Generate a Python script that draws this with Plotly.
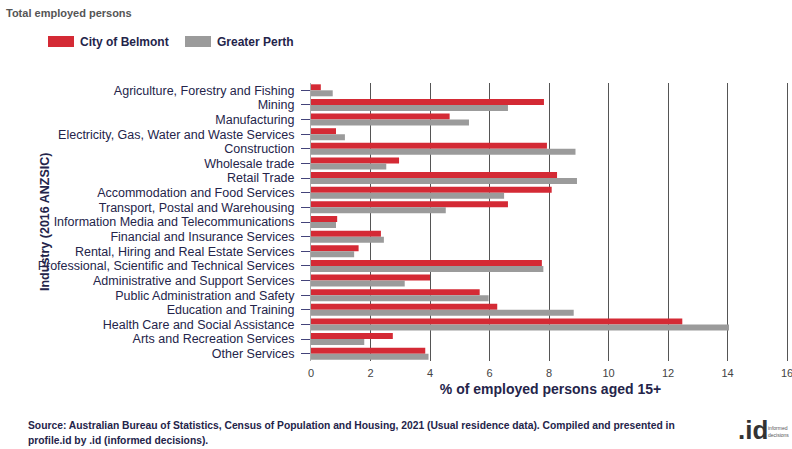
import plotly.graph_objects as go

categories = [
    "Agriculture, Forestry and Fishing",
    "Mining",
    "Manufacturing",
    "Electricity, Gas, Water and Waste Services",
    "Construction",
    "Wholesale trade",
    "Retail Trade",
    "Accommodation and Food Services",
    "Transport, Postal and Warehousing",
    "Information Media and Telecommunications",
    "Financial and Insurance Services",
    "Rental, Hiring and Real Estate Services",
    "Professional, Scientific and Technical Services",
    "Administrative and Support Services",
    "Public Administration and Safety",
    "Education and Training",
    "Health Care and Social Assistance",
    "Arts and Recreation Services",
    "Other Services",
]
belmont = [0.33, 7.83, 4.66, 0.84, 7.93, 2.96, 8.27, 8.09, 6.62, 0.88,
           2.35, 1.60, 7.76, 4.00, 5.67, 6.26, 12.48, 2.75, 3.84]
perth = [0.73, 6.62, 5.31, 1.14, 8.89, 2.53, 8.94, 6.49, 4.53, 0.84,
         2.45, 1.45, 7.81, 3.15, 5.97, 8.83, 14.05, 1.79, 3.95]
x_ticks = [0, 2, 4, 6, 8, 10, 12, 14, 16]
series_names = ["City of Belmont", "Greater Perth"]
series_colors = ["#d42a35", "#9b9b9b"]
source_lines = [
    "Source: Australian Bureau of Statistics, Census of Population and Housing, 2021 (Usual residence data). Compiled and presented in",
    "profile.id by .id (informed decisions).",
]

FONT = "Liberation Sans, Arial, sans-serif"
TXT = "#24244a"
W, H = 792, 449
L, R, T, B = 311, 2, 83, 88
PW, PH = W - L - R, H - T - B


def px(x):
    return (x - L) / PW


def py(y):
    return (H - B - y) / PH


fig = go.Figure()
for name, vals, col in zip(series_names, [belmont, perth], series_colors):
    fig.add_trace(go.Bar(y=categories, x=vals, orientation="h", name=name,
                         marker=dict(color=col, line=dict(width=0))))

fig.update_layout(
    width=W, height=H,
    margin=dict(l=L, r=R, t=T, b=B, autoexpand=False),
    paper_bgcolor="white", plot_bgcolor="white",
    barmode="group", bargap=0.18, bargroupgap=0.0,
    font=dict(family=FONT, color=TXT, size=10),
    showlegend=False,
    xaxis=dict(range=[0, 16.1], tickvals=x_ticks, showgrid=True, gridcolor="#555555",
               gridwidth=1, zeroline=False, showline=False,
               tickfont=dict(size=11, color="#444"), ticklabelstandoff=4,
               ticklabeloverflow="allow",
               title=dict(text="<b>% of employed persons aged 15+</b>",
                          font=dict(size=14, color=TXT), standoff=6)),
    yaxis=dict(autorange="reversed", ticks="outside", ticklen=9, tickcolor="#44447a",
               tickmode="array", tickvals=categories, ticktext=categories,
               tickfont=dict(size=12.5, color=TXT), showline=True, linecolor="#aaa",
               ticklabelstandoff=4, automargin=False),
)

# y-axis title
fig.add_annotation(text="<b>Industry (2016 ANZSIC)</b>", xref="paper", yref="paper",
                   x=px(45), y=py(222), textangle=-90, showarrow=False,
                   xanchor="center", yanchor="middle", font=dict(size=12.5, color=TXT))

# header
fig.add_annotation(text="<b>Total employed persons</b>", xref="paper", yref="paper",
                   x=px(4), y=py(13), xanchor="left", yanchor="middle",
                   showarrow=False, font=dict(size=11, color="#555"))

# custom legend
leg_x = [48, 185]
for i, (name, col) in enumerate(zip(series_names, series_colors)):
    fig.add_shape(type="rect", xref="paper", yref="paper",
                  x0=px(leg_x[i]), x1=px(leg_x[i] + 26), y0=py(47), y1=py(36),
                  fillcolor=col, line=dict(width=0))
    fig.add_annotation(text="<b>" + name + "</b>", xref="paper", yref="paper",
                       x=px(leg_x[i] + 30), y=py(42), xanchor="left", yanchor="middle",
                       showarrow=False, font=dict(size=12, color=TXT))

# source text
for i, line in enumerate(source_lines):
    fig.add_annotation(text="<b>" + line + "</b>", xref="paper", yref="paper",
                       x=px(26), y=py(426 + 14 * i), xanchor="left", yanchor="middle",
                       align="left", showarrow=False, font=dict(size=10.3, color=TXT))

# logo
fig.add_annotation(text="<b>.id</b>", xref="paper", yref="paper",
                   x=px(770), y=py(430), xanchor="right", yanchor="middle",
                   showarrow=False, font=dict(size=26, color="#333"))
fig.add_annotation(text="informed<br>decisions", xref="paper", yref="paper",
                   x=px(791), y=py(431), xanchor="right", yanchor="middle",
                   align="left", showarrow=False, font=dict(size=5, color="#555"))

fig.write_html("out.html", post_script="document.body.style.margin='0';",
               config={"displayModeBar": False})
